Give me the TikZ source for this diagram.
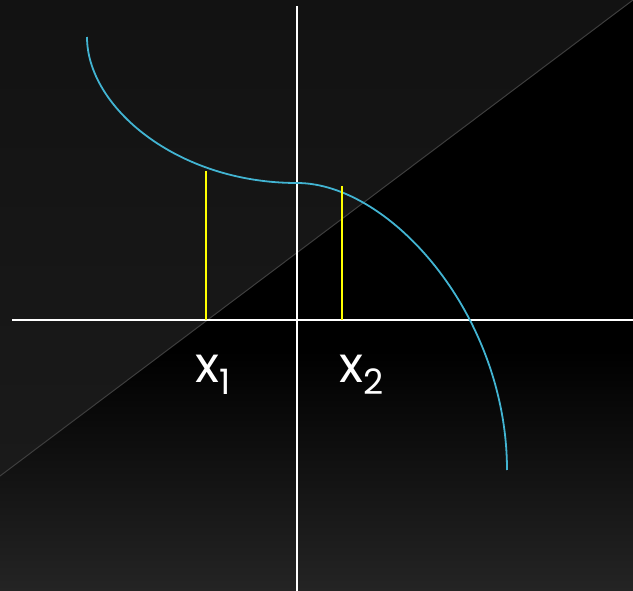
\documentclass[tikz,border=0pt]{standalone}
\usepackage{fontspec}
\setmainfont{Poppins}
\usetikzlibrary{positioning}
\definecolor{bgtop}{HTML}{121212}
\definecolor{bgmid}{HTML}{1C1C1C}
\definecolor{bgbot}{HTML}{242424}
\definecolor{diag}{HTML}{3E3E3E}
\definecolor{curvecyan}{HTML}{42B4D2}
\definecolor{rootyellow}{HTML}{FFFF00}
\newcommand{\sub}[1]{\raisebox{-13pt}{\fontsize{35}{40}\selectfont #1}}

\begin{document}
\begin{tikzpicture}[
    x=1pt, y=-1pt,
    axis/.style={white, line width=1.8pt},
    graph/.style={curvecyan, line width=1.8pt},
    root/.style={rootyellow, line width=2pt},
    lbl/.style={text=white, font=\fontsize{50}{60}\selectfont,
                inner sep=0pt, anchor=base west},
]
\useasboundingbox (0,0) rectangle (633,591);

% Background
\shade[top color=bgtop, bottom color=bgmid] (0,0) rectangle (633,591);
\begin{scope}
  \clip (0,476) -- (633,0) -- (633,591) -- (0,591) -- cycle;
  \fill[black] (0,0) rectangle (633,591);
  \shade[top color=black, bottom color=bgbot] (0,350) rectangle (633,591);
\end{scope}
\draw[diag, line width=1pt] (0,476) -- (633,0);

% Axes
\coordinate (xl) at (12,320);
\coordinate (xr) at (633,320);
\coordinate (yt) at (297,6);
\coordinate (yb) at (297,591);
\draw[axis] (xl) -- (xr);
\draw[axis] (yt) -- (yb);

% Curve
\coordinate (cstart) at (87,37);
\coordinate (cflat) at (297,183);
\coordinate (cend) at (507,470);
\draw[graph] (cstart) .. controls (87,107) and (177,183) .. (cflat)
                      .. controls (390,183) and (507,315) .. (cend);

% Roots
\coordinate (r1top) at (206,171);
\coordinate (r1) at (206,320);
\coordinate (r2top) at (342,186);
\coordinate (r2) at (342,320);
\draw[root] (r1top) -- (r1);
\draw[root] (r2top) -- (r2);

% Labels
\node[lbl] (x1) at (195,382) {x\sub{1}};
\node[lbl] (x2) at (339,382) {x\sub{2}};
\end{tikzpicture}
\end{document}
